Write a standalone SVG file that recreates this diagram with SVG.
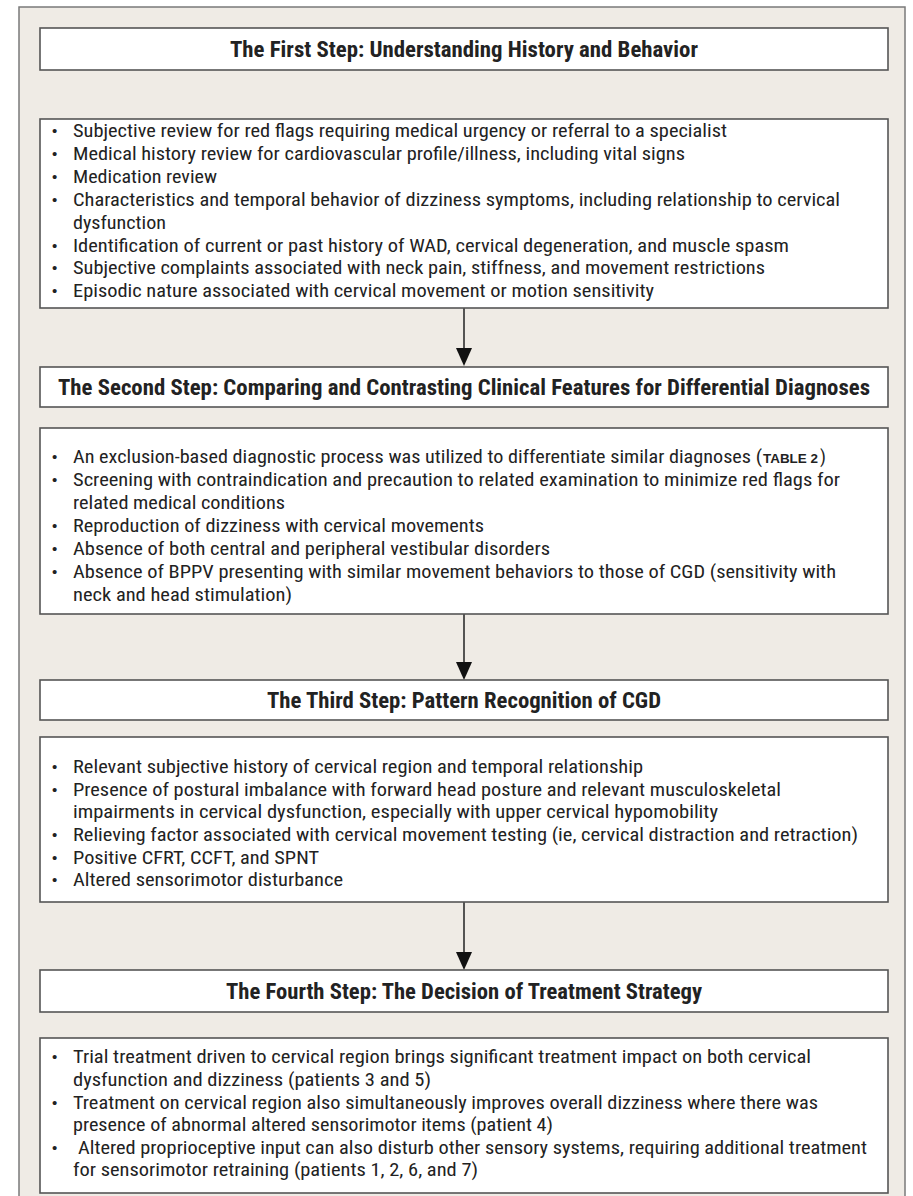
<svg xmlns="http://www.w3.org/2000/svg" width="913" height="1196" viewBox="0 0 913 1196">
<style>
.panel{fill:#efebe5;stroke:#7a7a7a;stroke-width:1.5}
.box{fill:#ffffff;stroke:#555555;stroke-width:1.6}
.t{font-family:"Liberation Sans Narrow","Roboto Condensed","DejaVu Sans Condensed","Liberation Sans",sans-serif;font-size:18.5px;fill:#222222}
.h{font-family:"Liberation Sans Narrow","Roboto Condensed","DejaVu Sans Condensed","Liberation Sans",sans-serif;font-size:22.5px;font-weight:bold;fill:#222222}
.sc{font-family:"Liberation Sans Narrow","Liberation Sans",sans-serif;font-size:13.5px;font-weight:bold;fill:#222222}
.b{font-family:"Liberation Sans",sans-serif;font-size:15px;fill:#222222}
.c{stroke:#222222;stroke-width:1.5;fill:none}
</style>
<rect class="panel" x="19" y="7" width="886" height="1215"/>

<g id="connectors">
<line class="c" x1="464" y1="308" x2="464" y2="350"/>
<path d="M456,348 L472,348 L464,366 Z" fill="#111"/>
<line class="c" x1="464" y1="614" x2="464" y2="664"/>
<path d="M456,662 L472,662 L464,680 Z" fill="#111"/>
<line class="c" x1="464" y1="902" x2="464" y2="954"/>
<path d="M456,952 L472,952 L464,970 Z" fill="#111"/>
</g>

<g id="step1-title">
<rect class="box" x="40" y="28" width="848" height="42"/>
<text class="h" x="230" y="57" textLength="468" lengthAdjust="spacingAndGlyphs">The First Step: Understanding History and Behavior</text>
</g>

<g id="step1-content">
<rect class="box" x="40" y="119" width="848" height="189"/>
<text class="b" x="52" y="136">•</text>
<text class="t" x="73" y="137" textLength="654" lengthAdjust="spacingAndGlyphs">Subjective review for red flags requiring medical urgency or referral to a specialist</text>
<text class="b" x="52" y="159">•</text>
<text class="t" x="73" y="160" textLength="612" lengthAdjust="spacingAndGlyphs">Medical history review for cardiovascular profile/illness, including vital signs</text>
<text class="b" x="52" y="182">•</text>
<text class="t" x="73" y="183" textLength="144" lengthAdjust="spacingAndGlyphs">Medication review</text>
<text class="b" x="52" y="205">•</text>
<text class="t" x="73" y="206" textLength="767" lengthAdjust="spacingAndGlyphs">Characteristics and temporal behavior of dizziness symptoms, including relationship to cervical</text>
<text class="t" x="73" y="229" textLength="93" lengthAdjust="spacingAndGlyphs">dysfunction</text>
<text class="b" x="52" y="251">•</text>
<text class="t" x="73" y="252" textLength="716" lengthAdjust="spacingAndGlyphs">Identification of current or past history of WAD, cervical degeneration, and muscle spasm</text>
<text class="b" x="52" y="273">•</text>
<text class="t" x="73" y="274" textLength="692" lengthAdjust="spacingAndGlyphs">Subjective complaints associated with neck pain, stiffness, and movement restrictions</text>
<text class="b" x="52" y="296">•</text>
<text class="t" x="73" y="297" textLength="581" lengthAdjust="spacingAndGlyphs">Episodic nature associated with cervical movement or motion sensitivity</text>
</g>

<g id="step2-title">
<rect class="box" x="40" y="367" width="848" height="40"/>
<text class="h" x="58" y="395" textLength="812" lengthAdjust="spacingAndGlyphs">The Second Step: Comparing and Contrasting Clinical Features for Differential Diagnoses</text>
</g>

<g id="step2-content">
<rect class="box" x="40" y="428" width="848" height="186"/>
<text class="b" x="52" y="462">•</text>
<text class="t" x="73" y="463" textLength="689" lengthAdjust="spacingAndGlyphs">An exclusion-based diagnostic process was utilized to differentiate similar diagnoses (</text>
<text class="sc" x="763" y="463" textLength="55" lengthAdjust="spacingAndGlyphs">TABLE 2</text>
<text class="t" x="820" y="463">)</text>
<text class="b" x="52" y="485">•</text>
<text class="t" x="73" y="486" textLength="767" lengthAdjust="spacingAndGlyphs">Screening with contraindication and precaution to related examination to minimize red flags for</text>
<text class="t" x="73" y="509" textLength="212" lengthAdjust="spacingAndGlyphs">related medical conditions</text>
<text class="b" x="52" y="531">•</text>
<text class="t" x="73" y="532" textLength="411" lengthAdjust="spacingAndGlyphs">Reproduction of dizziness with cervical movements</text>
<text class="b" x="52" y="554">•</text>
<text class="t" x="73" y="555" textLength="477" lengthAdjust="spacingAndGlyphs">Absence of both central and peripheral vestibular disorders</text>
<text class="b" x="52" y="577">•</text>
<text class="t" x="73" y="578" textLength="763" lengthAdjust="spacingAndGlyphs">Absence of BPPV presenting with similar movement behaviors to those of CGD (sensitivity with</text>
<text class="t" x="73" y="601" textLength="219" lengthAdjust="spacingAndGlyphs">neck and head stimulation)</text>
</g>

<g id="step3-title">
<rect class="box" x="40" y="680" width="848" height="40"/>
<text class="h" x="267" y="708" textLength="394" lengthAdjust="spacingAndGlyphs">The Third Step: Pattern Recognition of CGD</text>
</g>

<g id="step3-content">
<rect class="box" x="40" y="737" width="848" height="165"/>
<text class="b" x="52" y="772">•</text>
<text class="t" x="73" y="773" textLength="570" lengthAdjust="spacingAndGlyphs">Relevant subjective history of cervical region and temporal relationship</text>
<text class="b" x="52" y="795">•</text>
<text class="t" x="73" y="796" textLength="708" lengthAdjust="spacingAndGlyphs">Presence of postural imbalance with forward head posture and relevant musculoskeletal</text>
<text class="t" x="73" y="818" textLength="645" lengthAdjust="spacingAndGlyphs">impairments in cervical dysfunction, especially with upper cervical hypomobility</text>
<text class="b" x="52" y="840">•</text>
<text class="t" x="73" y="841" textLength="785" lengthAdjust="spacingAndGlyphs">Relieving factor associated with cervical movement testing (ie, cervical distraction and retraction)</text>
<text class="b" x="52" y="863">•</text>
<text class="t" x="73" y="864" textLength="246" lengthAdjust="spacingAndGlyphs">Positive CFRT, CCFT, and SPNT</text>
<text class="b" x="52" y="885">•</text>
<text class="t" x="73" y="886" textLength="270" lengthAdjust="spacingAndGlyphs">Altered sensorimotor disturbance</text>
</g>

<g id="step4-title">
<rect class="box" x="40" y="970" width="848" height="42"/>
<text class="h" x="226" y="999" textLength="476" lengthAdjust="spacingAndGlyphs">The Fourth Step: The Decision of Treatment Strategy</text>
</g>

<g id="step4-content">
<rect class="box" x="40" y="1038" width="848" height="155"/>
<text class="b" x="52" y="1062">•</text>
<text class="t" x="73" y="1063" textLength="738" lengthAdjust="spacingAndGlyphs">Trial treatment driven to cervical region brings significant treatment impact on both cervical</text>
<text class="t" x="73" y="1086" textLength="358" lengthAdjust="spacingAndGlyphs">dysfunction and dizziness (patients 3 and 5)</text>
<text class="b" x="52" y="1108">•</text>
<text class="t" x="73" y="1109" textLength="745" lengthAdjust="spacingAndGlyphs">Treatment on cervical region also simultaneously improves overall dizziness where there was</text>
<text class="t" x="73" y="1131" textLength="480" lengthAdjust="spacingAndGlyphs">presence of abnormal altered sensorimotor items (patient 4)</text>
<text class="b" x="52" y="1153">•</text>
<text class="t" x="78" y="1154" textLength="789" lengthAdjust="spacingAndGlyphs">Altered proprioceptive input can also disturb other sensory systems, requiring additional treatment</text>
<text class="t" x="73" y="1176" textLength="405" lengthAdjust="spacingAndGlyphs">for sensorimotor retraining (patients 1, 2, 6, and 7)</text>
</g>
</svg>
